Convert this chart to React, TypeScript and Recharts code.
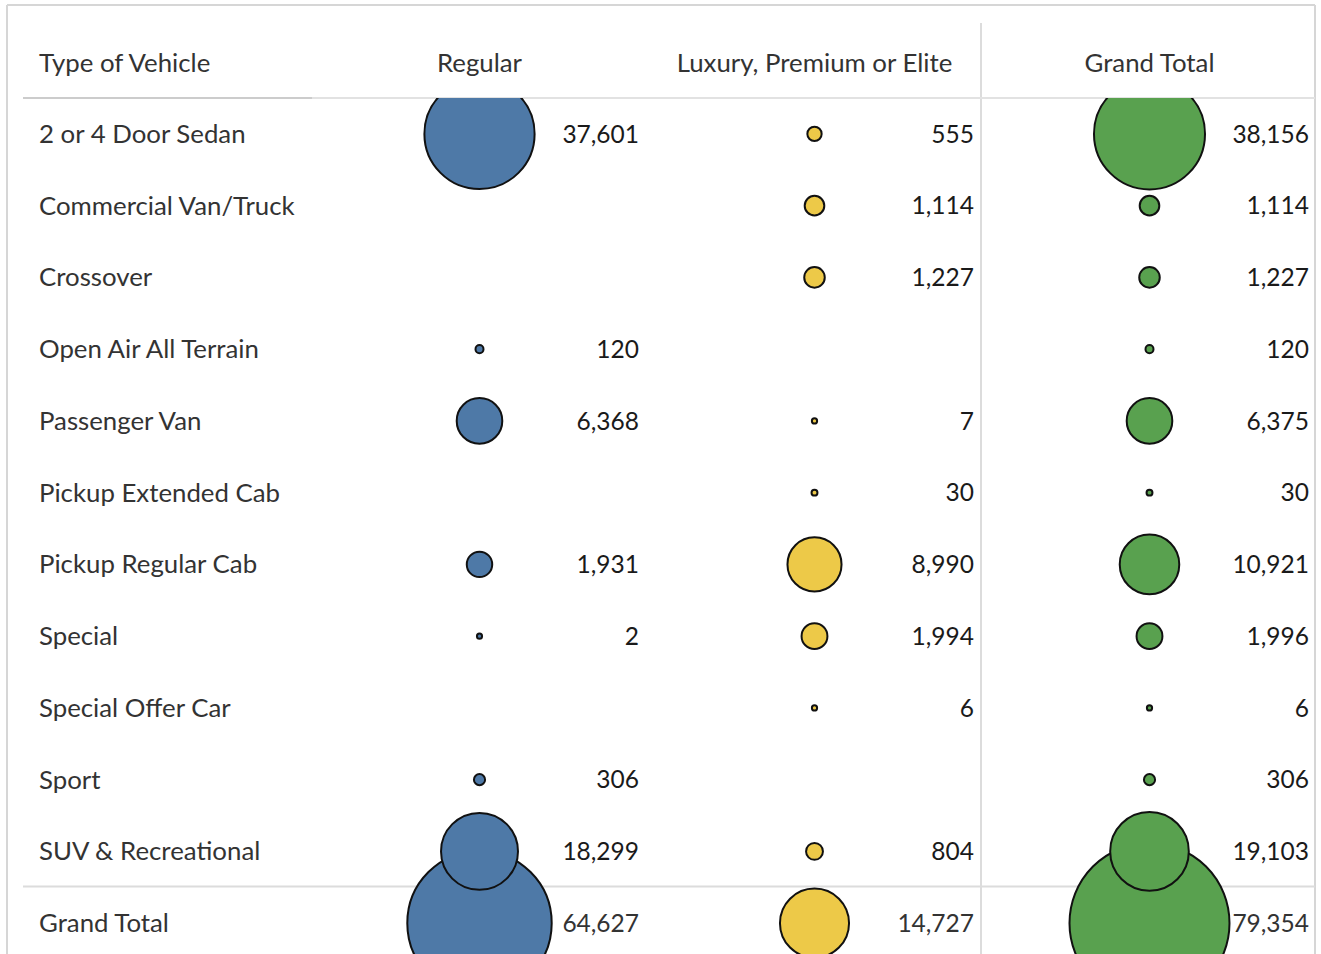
import React from 'react';
import { ScatterChart, Scatter, XAxis, YAxis, ZAxis, Customized } from 'recharts';

const vehicleTypes = [
  '2 or 4 Door Sedan',
  'Commercial Van/Truck',
  'Crossover',
  'Open Air All Terrain',
  'Passenger Van',
  'Pickup Extended Cab',
  'Pickup Regular Cab',
  'Special',
  'Special Offer Car',
  'Sport',
  'SUV & Recreational',
  'Grand Total',
];

const columnNames = ['Regular', 'Luxury, Premium or Elite', 'Grand Total'];

const regularValues: (number | null)[] = [37601, null, null, 120, 6368, null, 1931, 2, null, 306, 18299, 64627];
const luxuryValues: (number | null)[] = [555, 1114, 1227, null, 7, 30, 8990, 1994, 6, null, 804, 14727];
const grandTotalValues: (number | null)[] = [38156, 1114, 1227, 120, 6375, 30, 10921, 1996, 6, 306, 19103, 79354];

const seriesColors = ['#4e79a7', '#edc948', '#59a14f'];

const FONT = 'Lato, "Open Sans", sans-serif';
const LABEL_SIZE = 25.8;
const VALUE_SIZE = 24.5;

function buildPoints(values: (number | null)[], col: number) {
  const pts = values
    .map((v, i) => ({ col, row: i, value: v }))
    .filter((p) => p.value !== null);
  // draw the Grand Total row first so the row above sits on top of it
  const last = vehicleTypes.length - 1;
  return [...pts.filter((p) => p.row === last), ...pts.filter((p) => p.row !== last)];
}

const regularData = buildPoints(regularValues, 1);
const luxuryData = buildPoints(luxuryValues, 2);
const grandData = buildPoints(grandTotalValues, 3);

const maxValue = Math.max(...(grandTotalValues.filter((v) => v !== null) as number[]));

const fmt = (v: number) => v.toLocaleString('en-US');

const makeShape = (fill: string) => (props: any) => {
  const { cx, cy, payload } = props;
  const r = props.width ? props.width / 2 : Math.sqrt(Math.max(props.size || 0, 0) / Math.PI);
  const isTotal = payload.row === vehicleTypes.length - 1;
  return (
    <g>
      <circle cx={cx} cy={cy} r={r} fill={fill} stroke="#111" strokeWidth={2} />
      <text
        x={cx + 159.5}
        y={cy}
        dy="0.36em"
        textAnchor="end"
        fontFamily={FONT}
        fontSize={VALUE_SIZE}
        fill={isTotal ? '#333' : '#1a1a1a'}
      >
        {fmt(payload.value)}
      </text>
    </g>
  );
};

const RowTick = (props: any) => {
  const { y, payload } = props;
  return (
    <text x={39} y={y} dy="0.35em" textAnchor="start" fontFamily={FONT} fontSize={LABEL_SIZE} fill="#333">
      {vehicleTypes[payload.value]}
    </text>
  );
};

const HeaderTick = (props: any) => {
  const { x, payload } = props;
  return (
    <text x={x} y={63} dy="0.35em" textAnchor="middle" fontFamily={FONT} fontSize={LABEL_SIZE} fill="#333">
      {columnNames[payload.value - 1]}
    </text>
  );
};

const Decor = () => (
  <g>
    <line x1={7} y1={5} x2={1315} y2={5} stroke="#d6d6d6" strokeWidth={2} />
    <line x1={7} y1={5} x2={7} y2={960} stroke="#d6d6d6" strokeWidth={2} />
    <line x1={1315} y1={5} x2={1315} y2={960} stroke="#d6d6d6" strokeWidth={2} />
    <line x1={981} y1={23} x2={981} y2={960} stroke="#dcdcdc" strokeWidth={2} />
    <line x1={23} y1={98} x2={312} y2={98} stroke="#cccccc" strokeWidth={2} />
    <line x1={312} y1={98} x2={1315} y2={98} stroke="#e2e2e2" strokeWidth={2} />
    <line x1={23} y1={886.5} x2={1315} y2={886.5} stroke="#dcdcdc" strokeWidth={2} />
    <text x={39} y={63} dy="0.35em" textAnchor="start" fontFamily={FONT} fontSize={LABEL_SIZE} fill="#333">
      Type of Vehicle
    </text>
  </g>
);

export default function App() {
  const rowTicks = vehicleTypes.map((_, i) => i);
  return (
    <div
      style={{
        position: 'absolute',
        left: 0,
        top: 0,
        width: 1321,
        height: 954,
        overflow: 'hidden',
        background: '#fff',
      }}
    >
      <ScatterChart width={1321} height={959} margin={{ top: 38, right: 4, bottom: 0, left: 0 }}>
        <Customized component={Decor} />
        <XAxis
          type="number"
          dataKey="col"
          orientation="top"
          domain={[0.5, 3.5]}
          ticks={[1, 2, 3]}
          height={60}
          axisLine={false}
          tickLine={false}
          tick={<HeaderTick />}
          allowDataOverflow
        />
        <YAxis
          type="number"
          dataKey="row"
          domain={[-0.5, 11.5]}
          ticks={rowTicks}
          reversed
          width={312}
          axisLine={false}
          tickLine={false}
          tick={<RowTick />}
          interval={0}
          allowDataOverflow
        />
        <ZAxis type="number" dataKey="value" domain={[0, maxValue]} range={[20, Math.PI * 80 * 80]} />
        <Scatter data={grandData} shape={makeShape(seriesColors[2])} isAnimationActive={false} />
        <Scatter data={luxuryData} shape={makeShape(seriesColors[1])} isAnimationActive={false} />
        <Scatter data={regularData} shape={makeShape(seriesColors[0])} isAnimationActive={false} />
      </ScatterChart>
    </div>
  );
}
